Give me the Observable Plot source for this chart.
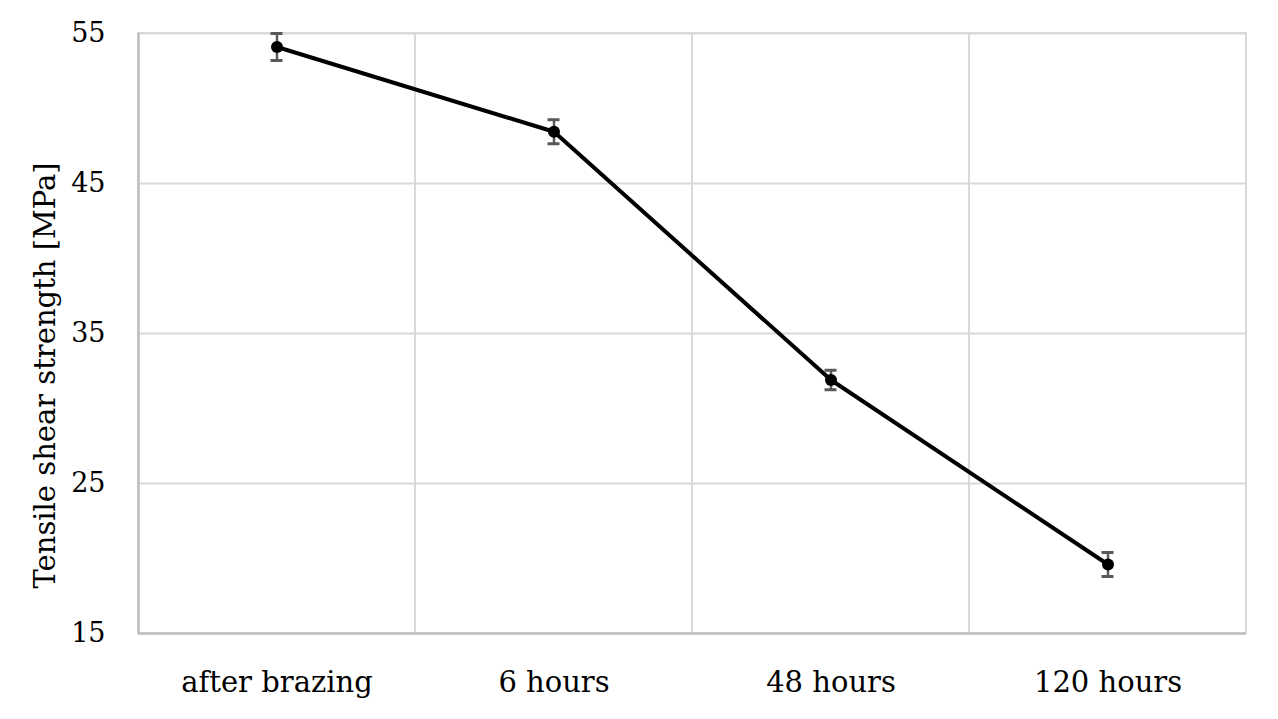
<!DOCTYPE html>
<html><head><meta charset="utf-8">
<script src="https://cdn.jsdelivr.net/npm/d3@7"></script>
<script src="https://cdn.jsdelivr.net/npm/@observablehq/plot@0.6"></script>
<style>body{margin:0;background:#fff;} svg{display:block;}</style>
</head><body><div id="chart"></div>
<script>
const categories = ["after brazing", "6 hours", "48 hours", "120 hours"];
const strength = [54.1, 48.45, 31.9, 19.6];
const errors = [0.9, 0.8, 0.65, 0.8];
const yTicks = [15, 25, 35, 45, 55];

const data = categories.map((c, i) => ({cat: c, v: strength[i], lo: strength[i] - errors[i], hi: strength[i] + errors[i]}));
const W = 1278, H = 719, mL = 138, mR = 32, mT = 33, mB = 86;
const band = (W - mL - mR) / categories.length;
const capInset = (band - 12) / 2;

const chart = Plot.plot({
  width: W, height: H,
  marginLeft: mL, marginRight: mR, marginTop: mT, marginBottom: mB,
  style: {fontFamily: "'DejaVu Serif', serif", fontSize: "27px", color: "#000", background: "#fff"},
  x: {type: "band", domain: categories, padding: 0, label: null},
  y: {domain: [15, 55], ticks: yTicks, label: null},
  marks: [
    Plot.cell(categories, {x: d => d, fill: "none", stroke: "#d9d9d9", strokeWidth: 2}),
    Plot.ruleY(yTicks, {stroke: "#d9d9d9", strokeWidth: 2}),
    Plot.ruleX([categories[0]], {stroke: "#bfbfbf", strokeWidth: 2.5, dx: -band / 2}),
    Plot.ruleY([15], {stroke: "#bfbfbf", strokeWidth: 2.5}),
    Plot.axisX({tickSize: 0, tickPadding: 38, fontSize: 29}),
    Plot.axisY({ticks: yTicks, tickSize: 0, tickPadding: 33, fontSize: 27}),
    Plot.ruleX(data, {x: "cat", y1: "lo", y2: "hi", stroke: "#595959", strokeWidth: 2.5}),
    Plot.tickY(data, {x: "cat", y: "lo", stroke: "#595959", strokeWidth: 3, insetLeft: capInset, insetRight: capInset}),
    Plot.tickY(data, {x: "cat", y: "hi", stroke: "#595959", strokeWidth: 3, insetLeft: capInset, insetRight: capInset}),
    Plot.line(data, {x: "cat", y: "v", stroke: "#000", strokeWidth: 4}),
    Plot.dot(data, {x: "cat", y: "v", r: 6, fill: "#000"}),
    Plot.text(["Tensile shear strength [MPa]"], {frameAnchor: "left", textAnchor: "middle", rotate: -90, dx: -93, dy: 42, fontSize: 29, fill: "#000"})
  ]
});
document.getElementById("chart").appendChild(chart);
</script></body></html>
